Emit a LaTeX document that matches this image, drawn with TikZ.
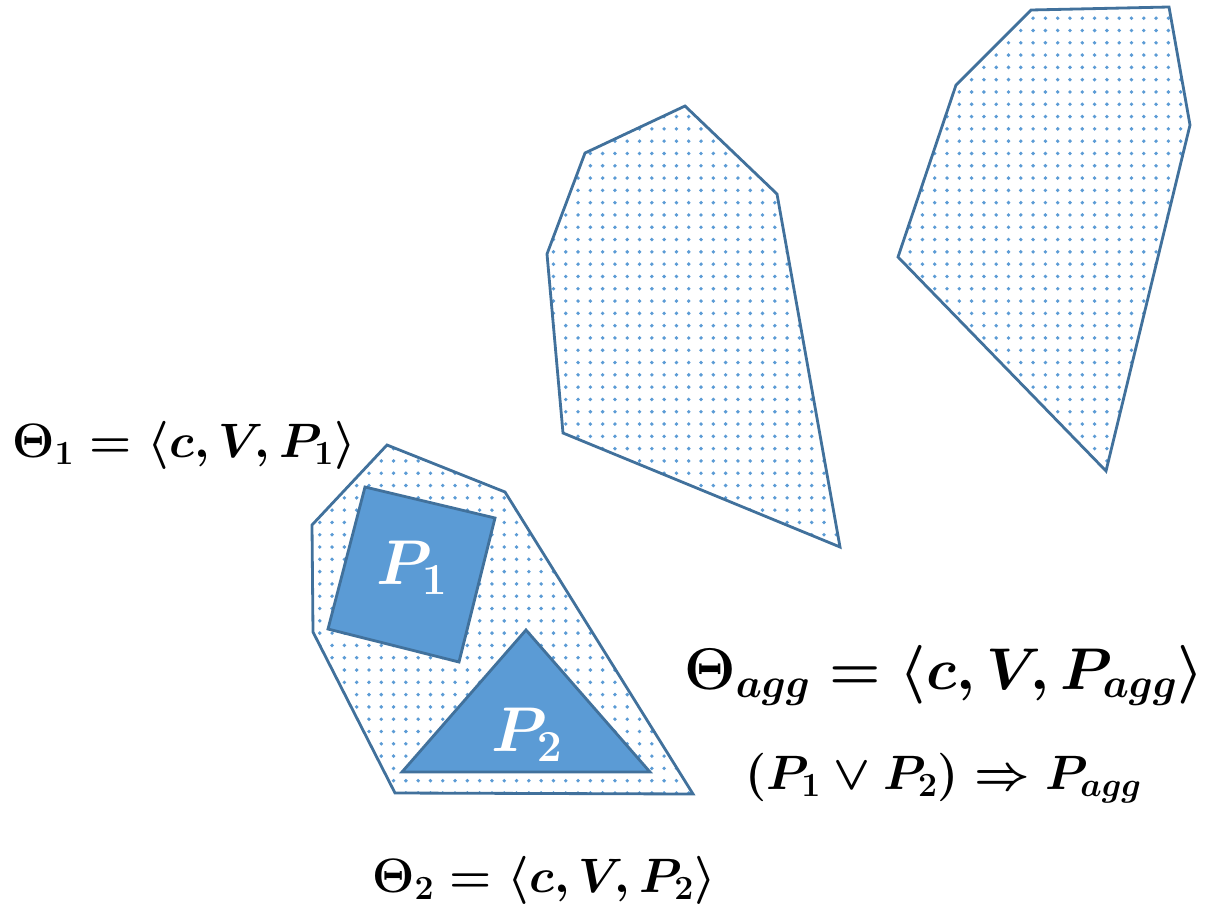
\RequirePackage{fix-cm}
\documentclass[tikz,border=0pt]{standalone}
\usepackage{amsmath, amssymb, bm}
\usetikzlibrary{patterns.meta}
\definecolor{edgeblue}{HTML}{41719C}
\definecolor{fillblue}{HTML}{5B9BD5}

\begin{document}
\begin{tikzpicture}[x=0.02cm, y=-0.02cm,
    region/.style={draw=edgeblue, line width=1.6pt, line join=miter,
      pattern={Dots[distance=7pt, radius=1.1pt]}, pattern color=fillblue},
    pred/.style={draw=edgeblue, line width=1.6pt, fill=fillblue},
    big/.style={font=\fontsize{27.5}{32}\selectfont\boldmath, inner sep=0pt},
    bigger/.style={font=\fontsize{33.5}{40}\selectfont\boldmath, inner sep=0pt},
    inner/.style={font=\fontsize{36}{42}\selectfont\boldmath, text=white, inner sep=0pt}]
  \useasboundingbox (0,0) rectangle (1217,916);
  % aggregated region with the two predicates inside
  \draw[region] (387,445) -- (505,492) -- (693,794) -- (395,793) -- (313,632) -- (312,525) -- cycle;
  \draw[pred] (365,487) -- (495,518) -- (459,662) -- (328,629) -- cycle;
  \draw[pred] (526,630) -- (650,772) -- (402,772) -- cycle;
  % two further regions
  \draw[region] (585,153) -- (685,106) -- (777,194) -- (840,547) -- (563,433) -- (547,254) -- cycle;
  \draw[region] (1031,10) -- (1169,7) -- (1190,125) -- (1106,471) -- (898,257) -- (956,85) -- cycle;
  \node[inner] (p1lab) at (412,568) {$P_1$};
  \node[inner] (p2lab) at (527,735) {$P_2$};
  \node[big, anchor=base west] (theta1) at (12,457) {$\Theta_1 = \langle c, V, P_1\rangle$};
  \node[big, anchor=base west] (theta2) at (372,892) {$\Theta_2 = \langle c, V, P_2\rangle$};
  \node[bigger, anchor=base west] (thetaagg) at (684,689) {$\Theta_{agg} = \langle c, V, P_{agg}\rangle$};
  \node[big, anchor=base west] (implies) at (745,789) {$(P_1 \vee P_2) \Rightarrow P_{agg}$};
\end{tikzpicture}
\end{document}
